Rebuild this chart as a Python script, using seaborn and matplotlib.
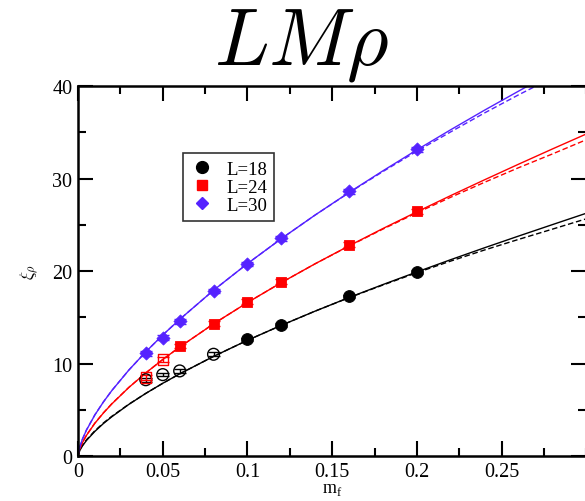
import numpy as np
import pandas as pd
import matplotlib
matplotlib.use("Agg")
import matplotlib.pyplot as plt
from matplotlib.lines import Line2D
from matplotlib.ticker import MultipleLocator
import seaborn as sns

# ---------------- data ----------------
m18_fill = [0.10, 0.12, 0.16, 0.20]
xi18_fill = [12.6, 14.2, 17.25, 19.9]
err18_fill = [0.2, 0.2, 0.2, 0.2]
m18_open = [0.04, 0.05, 0.06, 0.08]
xi18_open = [8.25, 8.8, 9.2, 11.0]
err18_open = [0.2, 0.2, 0.2, 0.2]

m24_fill = [0.06, 0.08, 0.10, 0.12, 0.16, 0.20]
xi24_fill = [11.9, 14.3, 16.7, 18.85, 22.85, 26.45]
err24_fill = [0.25, 0.25, 0.25, 0.25, 0.25, 0.25]
m24_open = [0.04, 0.05]
xi24_open = [8.5, 10.45]
err24_open = [0.3, 0.3]

m30_fill = [0.04, 0.05, 0.06, 0.08, 0.10, 0.12, 0.16, 0.20]
xi30_fill = [11.1, 12.8, 14.55, 17.85, 20.75, 23.55, 28.6, 33.15]
err30_fill = [0.25, 0.25, 0.25, 0.25, 0.25, 0.25, 0.25, 0.25]

m_curve = [0.0, 0.001, 0.0025, 0.005, 0.01, 0.015, 0.02, 0.03, 0.04, 0.05, 0.06,
           0.08, 0.10, 0.12, 0.14, 0.16, 0.18, 0.20, 0.22, 0.24, 0.26, 0.28, 0.30]
fit18_solid = [0, 0.57, 1.06, 1.68, 2.67, 3.51, 4.25, 5.58, 6.77, 7.86, 8.88,
               10.77, 12.51, 14.13, 15.67, 17.14, 18.54, 19.90, 21.23, 22.52, 23.78, 25.02, 26.25]
fit18_dash = [0, 0.62, 1.12, 1.75, 2.74, 3.57, 4.30, 5.60, 6.77, 7.86, 8.88,
              10.77, 12.51, 14.13, 15.67, 17.12, 18.49, 19.82, 21.08, 22.28, 23.42, 24.53, 25.65]
fit24_solid = [0, 0.76, 1.40, 2.23, 3.55, 4.65, 5.64, 7.41, 8.98, 10.43, 11.78,
               14.29, 16.59, 18.75, 20.79, 22.73, 24.60, 26.40, 28.16, 29.87, 31.55, 33.20, 34.82]
fit24_dash = [0, 0.78, 1.42, 2.25, 3.57, 4.67, 5.66, 7.42, 8.98, 10.43, 11.78,
              14.29, 16.59, 18.75, 20.79, 22.70, 24.54, 26.30, 27.98, 29.60, 31.17, 32.66, 34.20]
fit30_solid = [0, 0.95, 1.76, 2.80, 4.45, 5.84, 7.08, 9.29, 11.26, 13.08, 14.77,
               17.92, 20.80, 23.50, 26.06, 28.50, 30.84, 33.10, 35.28, 37.40, 39.45, 41.47, 43.43]
fit30_dash = [0, 0.97, 1.78, 2.82, 4.47, 5.85, 7.09, 9.29, 11.26, 13.08, 14.77,
              17.92, 20.80, 23.50, 26.06, 28.47, 30.76, 32.96, 35.05, 37.10, 39.05, 40.90, 42.70]

labels = ["L=18", "L=24", "L=30"]
colors = ["#000000", "#ff0000", "#5522ff"]

# ---------------- style ----------------
sns.set_style("ticks")
plt.rcParams["font.family"] = ["Liberation Serif", "DejaVu Serif"]
plt.rcParams["mathtext.fontset"] = "cm"
for k in ["text.color", "axes.labelcolor", "xtick.color", "ytick.color", "axes.edgecolor"]:
    plt.rcParams[k] = "black"

fig = plt.figure(figsize=(5.85, 5.02), dpi=100)
ax = fig.add_axes([0.1333, 0.0896, 0.869, 0.737])

curves = pd.DataFrame({
    "m": m_curve * 6,
    "xi": fit18_solid + fit18_dash + fit24_solid + fit24_dash + fit30_solid + fit30_dash,
    "grp": sum([[g] * len(m_curve) for g in ["18s", "18d", "24s", "24d", "30s", "30d"]], []),
})
for g, col, ls in [("18s", colors[0], "-"), ("18d", colors[0], (0, (4, 2))),
                   ("24s", colors[1], "-"), ("24d", colors[1], (0, (4, 2))),
                   ("30s", colors[2], "-"), ("30d", colors[2], (0, (4, 2)))]:
    sub = curves[curves["grp"] == g]
    sns.lineplot(data=sub, x="m", y="xi", ax=ax, color=col, linewidth=1.0,
                 linestyle=ls, estimator=None, sort=False, legend=False)

for mx, yy, ee, col in [(m18_fill, xi18_fill, err18_fill, colors[0]),
                        (m18_open, xi18_open, err18_open, colors[0]),
                        (m24_fill, xi24_fill, err24_fill, colors[1]),
                        (m24_open, xi24_open, err24_open, colors[1]),
                        (m30_fill, xi30_fill, err30_fill, colors[2])]:
    ax.errorbar(mx, yy, yerr=ee, fmt="none", ecolor=col, elinewidth=1.0,
                capsize=4.5, capthick=1.0, zorder=4)

pts = pd.DataFrame({"m": m18_fill, "xi": xi18_fill})
sns.scatterplot(data=pts, x="m", y="xi", ax=ax, marker="o", s=72, color=colors[0],
                edgecolor=colors[0], zorder=5, legend=False)
pts = pd.DataFrame({"m": m18_open, "xi": xi18_open})
sns.scatterplot(data=pts, x="m", y="xi", ax=ax, marker="o", s=72, facecolor="none",
                edgecolor=colors[0], linewidth=1.0, zorder=5, legend=False)
pts = pd.DataFrame({"m": m24_fill, "xi": xi24_fill})
sns.scatterplot(data=pts, x="m", y="xi", ax=ax, marker="s", s=55, color=colors[1],
                edgecolor=colors[1], zorder=5, legend=False)
pts = pd.DataFrame({"m": m24_open, "xi": xi24_open})
sns.scatterplot(data=pts, x="m", y="xi", ax=ax, marker="s", s=55, facecolor="none",
                edgecolor=colors[1], linewidth=1.0, zorder=5, legend=False)
pts = pd.DataFrame({"m": m30_fill, "xi": xi30_fill})
sns.scatterplot(data=pts, x="m", y="xi", ax=ax, marker="D", s=45, color=colors[2],
                edgecolor=colors[2], zorder=5, legend=False)

ax.set_xlim(0, 0.3)
ax.set_ylim(0, 40)
ax.xaxis.set_minor_locator(MultipleLocator(0.025))
ax.yaxis.set_minor_locator(MultipleLocator(5))
ax.set_xticks([0, 0.05, 0.1, 0.15, 0.2, 0.25])
ax.set_xticklabels(["0", "0.05", "0.1", "0.15", "0.2", "0.25"])
ax.set_yticks([0, 10, 20, 30, 40])
ax.set_yticklabels(["0", "10", "20", "30", "40"])
ax.tick_params(which="both", direction="in", top=True, right=True, width=1.5,
               labelsize=14.5, colors="black", pad=4)
ax.tick_params(which="major", length=11)
ax.tick_params(which="minor", length=6)
for sp in ax.spines.values():
    sp.set_linewidth(1.8)
    sp.set_color("black")
ax.set_xlabel(r"m$_\mathregular{f}$", fontsize=13, labelpad=0)
ax.set_ylabel(r"$\xi_\rho$", fontsize=12.5, labelpad=8)

handles = [Line2D([], [], marker=mk, color=c, linestyle="none", markersize=ms)
           for mk, c, ms in zip(["o", "s", "D"], colors, [8.5, 7.0, 6.3])]
leg = ax.legend(handles, labels, loc="upper left", bbox_to_anchor=(0.2065, 0.819),
                frameon=True, fancybox=False, fontsize=13.5, handlelength=1.2,
                handletextpad=0.7, labelspacing=0.05, borderpad=0.4, borderaxespad=0)
leg.get_frame().set_edgecolor("black")
leg.get_frame().set_linewidth(1.2)

fig.text(0.516, 1 - 65 / 502, r"$LM\rho$", fontsize=58, ha="center", va="baseline")

fig.savefig("out.png", dpi=100)
